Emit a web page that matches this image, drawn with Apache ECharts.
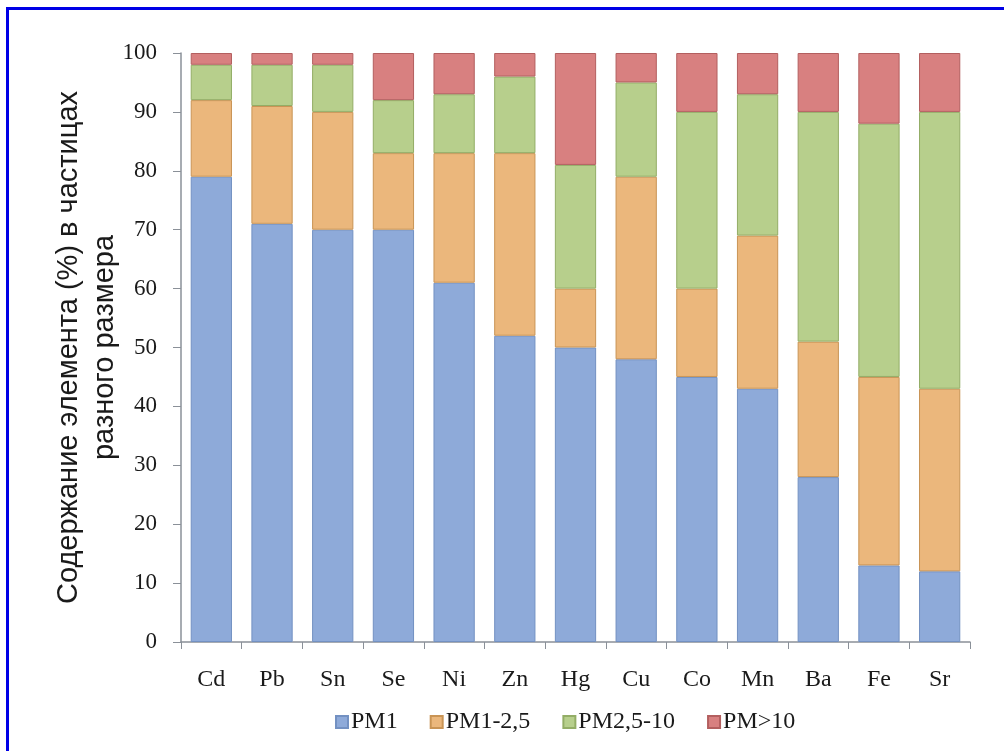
<!DOCTYPE html>
<html>
<head>
<meta charset="utf-8">
<script src="https://cdn.jsdelivr.net/npm/echarts@6/dist/echarts.min.js"></script>
<style>
html,body{margin:0;padding:0;background:#fff;}
#frame{position:absolute;left:6px;top:7px;width:1100px;height:900px;border:3px solid #0000e6;box-sizing:border-box;}
#chart{position:absolute;left:0;top:0;width:1004px;height:751px;}
</style>
</head>
<body>
<div id="frame"></div>
<div id="chart"></div>
<script>
const categories = ['Cd','Pb','Sn','Se','Ni','Zn','Hg','Cu','Co','Mn','Ba','Fe','Sr'];
const pm1      = [79,71,70,70,61,52,50,48,45,43,28,13,12];
const pm1_25   = [13,20,20,13,22,31,10,31,15,26,23,32,31];
const pm25_10  = [6,7,8,9,10,13,21,16,30,24,39,43,47];
const pmOver10 = [2,2,2,8,7,4,19,5,10,7,10,12,10];
const seriesNames = ['PM1','PM1-2,5','PM2,5-10','PM>10'];
const yTicks = [0,10,20,30,40,50,60,70,80,90,100];

const colors = ['#8eaad9','#ebb77c','#b7cf8c','#d88080'];
const borders = ['#7391c2','#c99455','#93ad66','#b35f5f'];
const data = [pm1, pm1_25, pm25_10, pmOver10];

const chart = echarts.init(document.getElementById('chart'));
const serif = '"Liberation Serif", "DejaVu Serif", serif';
chart.setOption({
  backgroundColor: 'transparent',
  animation: false,
  grid: {left: 181, right: 34, top: 53, bottom: 109},
  legend: {
    bottom: 12, left: 330,
    itemWidth: 12, itemHeight: 12, itemGap: 32,
    icon: 'rect',
    textStyle: {fontFamily: serif, fontSize: 24, color: '#1a1a1a', padding: [0,0,0,-2]},
    data: seriesNames
  },
  xAxis: {
    type: 'category', data: categories,
    axisLine: {lineStyle: {color: '#8a9098', width: 1.5}},
    axisTick: {show: true, alignWithLabel: false, length: 7, inside: false, lineStyle: {color: '#8a9098'}},
    axisLabel: {fontFamily: serif, fontSize: 24, color: '#1a1a1a', margin: 26}
  },
  yAxis: {
    type: 'value', min: 0, max: 100, interval: 10,
    name: 'Содержание элемента (%) в частицах\nразного размера',
    nameLocation: 'middle', nameGap: 58, nameMoveOverlap: false,
    nameTextStyle: {fontFamily: '"Liberation Sans", Arial, sans-serif', fontSize: 29, color: '#1a1a1a', lineHeight: 36, align: 'center'},
    axisLine: {show: true, lineStyle: {color: '#8a9098', width: 1.5}},
    axisTick: {show: true, length: 8, lineStyle: {color: '#8a9098'}},
    splitLine: {show: false},
    axisLabel: {fontFamily: serif, fontSize: 23, color: '#1a1a1a', margin: 24,
      formatter: v => yTicks.includes(v) ? String(v) : ''}
  },
  series: data.map((d, i) => ({
    name: seriesNames[i], type: 'bar', stack: 'total',
    barCategoryGap: '32%',
    itemStyle: {color: colors[i], borderColor: borders[i], borderWidth: 1},
    data: d
  }))
});
</script>
</body>
</html>
